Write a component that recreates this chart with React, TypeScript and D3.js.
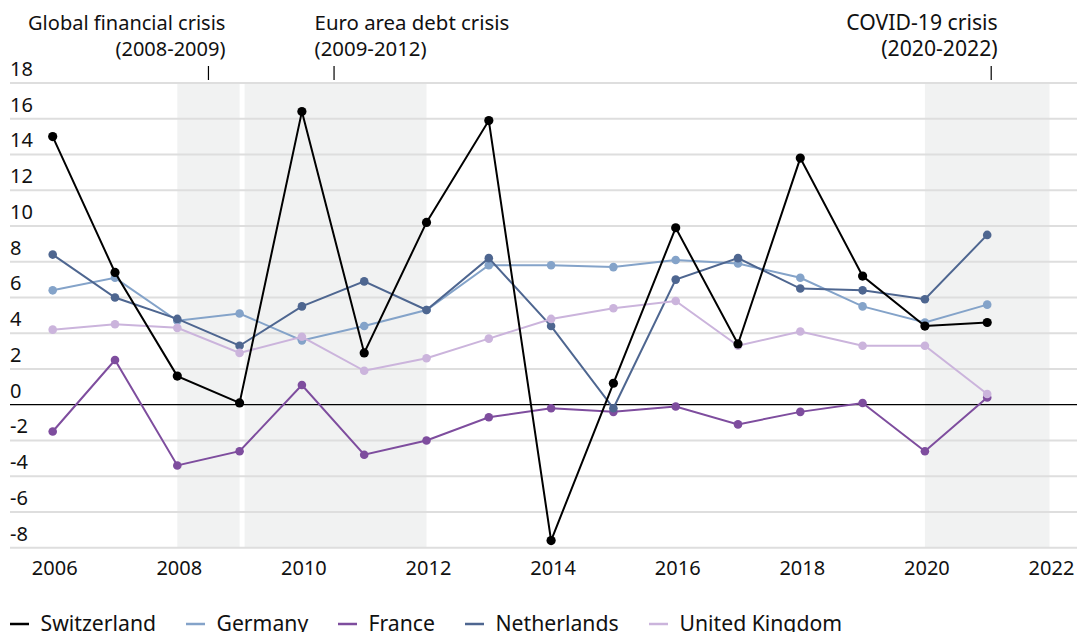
import React, { useEffect, useRef } from 'react';
import * as d3 from 'd3';

const years = [2006, 2007, 2008, 2009, 2010, 2011, 2012, 2013, 2014, 2015, 2016, 2017, 2018, 2019, 2020, 2021];
const switzerland = [15.0, 7.4, 1.6, 0.1, 16.4, 2.9, 10.2, 15.9, -7.6, 1.2, 9.9, 3.4, 13.8, 7.2, 4.4, 4.6];
const germany = [6.4, 7.1, 4.7, 5.1, 3.6, 4.4, 5.3, 7.8, 7.8, 7.7, 8.1, 7.9, 7.1, 5.5, 4.6, 5.6];
const france = [-1.5, 2.5, -3.4, -2.6, 1.1, -2.8, -2.0, -0.7, -0.2, -0.4, -0.1, -1.1, -0.4, 0.1, -2.6, 0.4];
const netherlands = [8.4, 6.0, 4.8, 3.3, 5.5, 6.9, 5.3, 8.2, 4.4, -0.2, 7.0, 8.2, 6.5, 6.4, 5.9, 9.5];
const unitedKingdom = [4.2, 4.5, 4.3, 2.9, 3.8, 1.9, 2.6, 3.7, 4.8, 5.4, 5.8, 3.3, 4.1, 3.3, 3.3, 0.6];

const yTicks = [-8, -6, -4, -2, 0, 2, 4, 6, 8, 10, 12, 14, 16, 18];
const xTicks = [2006, 2008, 2010, 2012, 2014, 2016, 2018, 2020, 2022];

// crisis periods: [start, end, title, period]
const crises: [number, number, string, string][] = [
  [2008, 2009, 'Global financial crisis', '(2008-2009)'],
  [2009, 2012, 'Euro area debt crisis', '(2009-2012)'],
  [2020, 2022, 'COVID-19 crisis', '(2020-2022)'],
];

const series = [
  { name: 'Switzerland', values: switzerland, color: '#000000' },
  { name: 'Germany', values: germany, color: '#84a3c9' },
  { name: 'France', values: france, color: '#7e4d9e' },
  { name: 'Netherlands', values: netherlands, color: '#4e6690' },
  { name: 'United Kingdom', values: unitedKingdom, color: '#cbb4dc' },
];
// draw order (last on top)
const drawOrder = ['France', 'Germany', 'Netherlands', 'United Kingdom', 'Switzerland'];
const legendX = [10, 186, 338, 465, 649];

const W = 1077;
const H = 632;
const FONT = '"Noto Sans", "Open Sans", sans-serif';

const App = () => {
  const svgRef = useRef<SVGSVGElement>(null);

  useEffect(() => {
    document.body.style.margin = '0';
    const svg = d3.select(svgRef.current);
    svg.selectAll('*').remove();

    const x = d3.scaleLinear().domain([2006, 2022]).range([52.7, 1049.5]);
    const y = d3.scaleLinear().domain([-8, 18]).range([547.7, 83]);

    // shaded crisis bands
    const bands = svg.append('g');
    crises.forEach(([s, e], i) => {
      const x0 = x(s) + (i === 1 ? 5 : 0);
      bands.append('rect')
        .attr('x', x0)
        .attr('y', y(18) + 1)
        .attr('width', x(e) - x0)
        .attr('height', y(-8) - y(18) - 1)
        .attr('fill', '#f1f2f2');
    });

    // gridlines + y labels
    const grid = svg.append('g');
    yTicks.forEach(t => {
      if (t !== 0) {
        grid.append('line')
          .attr('x1', 10).attr('x2', W)
          .attr('y1', y(t)).attr('y2', y(t))
          .attr('stroke', '#dedede')
          .attr('stroke-width', 2);
      }
      grid.append('text')
        .attr('x', 10)
        .attr('y', y(t) - 7)
        .attr('font-family', FONT)
        .attr('font-size', 20)
        .attr('fill', '#111')
        .text(t);
    });

    // x labels
    xTicks.forEach(t => {
      svg.append('text')
        .attr('x', x(t) + 2)
        .attr('y', 575)
        .attr('text-anchor', 'middle')
        .attr('font-family', FONT)
        .attr('font-size', 20)
        .attr('fill', '#111')
        .text(t);
    });

    // zero line
    svg.append('line')
      .attr('x1', 10).attr('x2', W)
      .attr('y1', y(0)).attr('y2', y(0))
      .attr('stroke', '#000')
      .attr('stroke-width', 1.3);

    // crisis annotations
    const annot = [
      { anchor: 'end', dx: 17, tick: 0, size: 20 },
      { anchor: 'start', dx: -19.5, tick: -1.5, size: 20.4 },
      { anchor: 'end', dx: 6.5, tick: 4, size: 21.2 },
    ];
    crises.forEach(([s, e, title, period], i) => {
      const tx = (x(s) + (i === 1 ? 5 : 0) + x(e)) / 2 + annot[i].tick;
      svg.append('line')
        .attr('x1', tx).attr('x2', tx)
        .attr('y1', 66).attr('y2', 80)
        .attr('stroke', '#000')
        .attr('stroke-width', 1.2);
      const tg = svg.append('text')
        .attr('font-family', FONT)
        .attr('font-size', annot[i].size)
        .attr('fill', '#111')
        .attr('text-anchor', annot[i].anchor);
      tg.append('tspan').attr('x', tx + annot[i].dx).attr('y', 30).text(title);
      tg.append('tspan').attr('x', tx + annot[i].dx).attr('y', 56).text(period);
    });

    // series
    const line = d3.line<number>()
      .x((_, i) => x(years[i]))
      .y(d => y(d));

    drawOrder.forEach(name => {
      const s = series.find(d => d.name === name)!;
      const g = svg.append('g');
      g.append('path')
        .attr('d', line(s.values))
        .attr('fill', 'none')
        .attr('stroke', s.color)
        .attr('stroke-width', 2);
      g.selectAll('circle')
        .data(s.values)
        .enter().append('circle')
        .attr('cx', (_, i) => x(years[i]))
        .attr('cy', d => y(d))
        .attr('r', name === 'Switzerland' ? 4.6 : 4.3)
        .attr('fill', s.color);
    });

    // legend
    const legend = svg.append('g');
    series.forEach((s, i) => {
      const lx = legendX[i];
      legend.append('line')
        .attr('x1', lx).attr('x2', lx + 19)
        .attr('y1', 624).attr('y2', 624)
        .attr('stroke', s.color)
        .attr('stroke-width', 2.5);
      legend.append('text')
        .attr('x', lx + 30.5)
        .attr('y', 631)
        .attr('font-family', FONT)
        .attr('font-size', 21.2)
        .attr('fill', '#111')
        .text(s.name);
    });
  }, []);

  return <svg ref={svgRef} width={W} height={H} style={{ display: 'block' }}></svg>;
};

export default App;
